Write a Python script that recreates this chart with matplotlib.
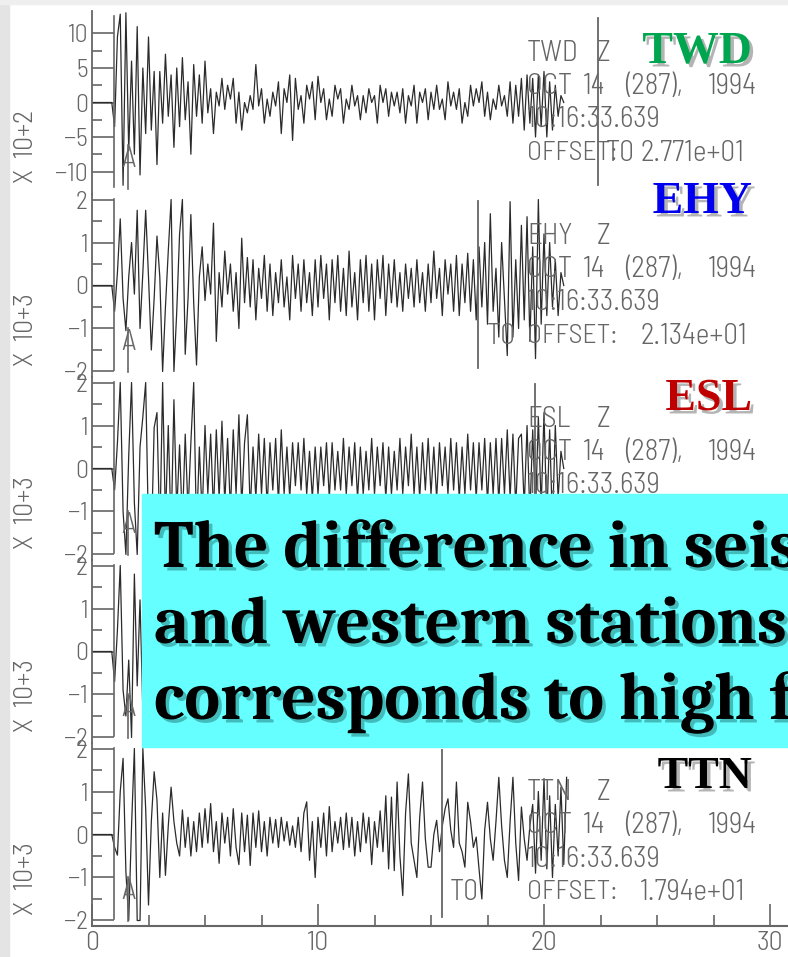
import numpy as np
import matplotlib
matplotlib.use("Agg")
import matplotlib.pyplot as plt
from matplotlib.patches import Rectangle
from matplotlib.transforms import blended_transform_factory
import matplotlib.patheffects as pe

# ---------------- data ----------------
dt = 0.125          # sample interval (s); samples start at t = 0
stations = ["TWD", "EHY", "ESL", "", "TTN"]
station_colors = ["#00A550", "#0000EE", "#C00000", "black", "black"]
scale_labels = ["X  10+2", "X  10+3", "X  10+3", "X  10+3", "X  10+3"]
offsets = ["2.771e+01", "2.134e+01", None, None, "1.794e+01"]
t0_picks = [22.4, 17.1, 19.6, 18.5, 15.5]
a_pick = 1.6
component = "Z"
date_tokens = ["OCT", "14", "(287),", "1994"]
time_line = "10:16:33.639"

yticks_big = [-10, -5, 0, 5, 10]
yticks_small = [-2, -1, 0, 1, 2]
xticks = [0, 10, 20, 30]
xtick_labels = ["0", "10", "20", "30"]

twd = [0, 0, 0, 0, 0, 0, 0, 0,
       -3.5, 9.5, 12.8, -12, 13, -7, 6, -7.5,
       11, -10.5, 5, -4.5, 9.5, -4, 4.5, -9,
       4.5, -3, 7, -2, 4, -6.5, 5, -3.5,
       6.5, -2.5, 3, -7.5, 5.5, -2, 4, -3,
       6, -1.5, 2, -4.5, 1.5, -0.5, 3.5, -1,
       2.5, 0.5, 3.5, -3, 1.5, -4, 0, -1.5,
       1, -1, 5.5, -0.5, 2, -3, 0.5, -2,
       1.5, -0.5, 3, -4.5, 2, 0, 4, -5.5,
       3.5, -1, 1, -3, 2.5, 0.5, 3, -2.5,
       3.8, 0, 2, -2.5, 0.5, -2, 2.5, 0.5,
       2, -3, 0.5, -1, 2.5, -0.5, 1, -2.5,
       1, -1.5, 2, 0, 1, -3, 2.5, 0,
       2, -2, 1.5, -0.5, 1.5, -1.5, 2, -3,
       1, -0.5, 2.5, -3, 1.5, 0, 2, -2.5,
       1.5, -1, 2.5, -1, 0.5, -2.5, 3, -0.5,
       1.5, -1, 2, -3, 0, -2, 2.5, -0.5,
       2, 0, 3, -2, 1.5, -2.5, 0.5, -1,
       2.5, -0.5, 1, -2, 3, -3, 2.5, -2,
       3.5, -4, 4, -3, 3.5, -5, 4, -3.5,
       4.5, -5, 3, -4, 2.5, -2, 1, 0]

ehy = [0, 0, 0, 0, 0, 0, 0, 0,
       -0.6, 0.3, 1.55, -0.3, -1.05, 0.2, 1.0, -0.2,
       1.75, -1.0, 0.3, 1.75, 0.2, -1.5, -0.3, 1.15,
       0.2, -2.0, -0.5, 0.8, 2.0, -2.0, -0.6, 1.2,
       2.0, -1.6, -0.3, 1.65, -0.4, -1.85, 0.2, 0.9,
       -0.35, 0.5, -0.2, 1.45, -1.3, 0.3, -0.5, 0.8,
       -0.2, 0.5, -0.6, 0.3, -1.0, 1.1, -0.4, 0.65,
       -0.5, 0.6, -0.8, 0.4, -0.3, 0.7, -0.6, 0.5,
       -0.7, 0.3, -0.4, 0.6, -0.5, 0.2, -0.8, 0.7,
       -0.3, 0.5, -0.6, 0.6, -0.4, 0.3, -0.7, 0.6,
       -0.5, 0.7, -0.3, 0.5, -0.8, 0.6, -0.4, 0.7,
       -0.6, 0.4, -0.7, 0.8, -0.5, 0.3, -0.8, 0.6,
       -0.4, 0.7, -0.6, 0.5, -0.8, 0.6, -0.3, 0.7,
       -0.7, 0.5, -0.4, 0.6, -0.5, 0.3, -0.6, 0.5,
       -0.3, 0.4, -0.5, 0.6, -0.4, 0.3, -0.6, 0.5,
       -0.4, 0.8, -0.3, 0.4, -0.7, 0.6, -0.2, 0.5,
       -0.6, 0.7, -0.7, 0.5, -0.4, 0.75, -0.6, 0.6,
       -0.8, 0.9, -0.5, 1.0, -0.9, 1.67, -0.6, 0.4,
       -1.2, 1.0, -0.3, -1.63, 1.95, -1.2, 0.6, -1.0,
       1.4, -0.8, 1.6, -1.3, 0.9, -1.7, 2.0, -0.9,
       1.2, -0.7, 1.0, -0.5, 0.6, -0.7, 0.3, 0.0]

esl = [0, 0, 0, 0, 0, 0, 0, 0,
       -0.5, 0.6, 2.0, -1.0, -2.0, 0.3, 2.0, -0.8,
       -2.0, 0.5, 1.2, 2.0, -1.5, -1.8, 0.95, 1.3,
       -1.6, 2.0, -1.2, 1.0, -1.5, 1.6, -1.0, 0.55,
       -1.3, 0.8, -1.0, 0.6, 2.0, -1.5, 0.5, -1.1,
       1.0, -0.6, 0.8, -1.0, 0.9, -0.7, 1.1, -0.8,
       0.7, -1.0, 0.9, -0.6, 1.25, -0.9, 0.6, 1.25,
       -1.0, 0.5, -0.7, 0.8, -0.6, 0.7, -0.9, 0.6,
       -0.5, 0.7, -0.8, 0.9, -0.6, 0.5, -0.7, 0.6,
       -0.4, 0.6, -0.5, 0.7, -0.6, 0.4, -0.7, 0.5,
       -0.6, 0.5, -0.4, 0.6, -0.7, 0.6, -0.5, 0.4,
       -0.5, 0.7, -0.6, 0.5, -0.4, 0.6, -0.7, 0.5,
       -0.6, 0.4, -0.5, 0.7, -0.6, 0.5, -0.4, 0.6,
       -0.7, 0.5, -0.6, 0.4, -0.5, 0.7, -0.6, 0.5,
       -0.4, 0.8, -0.6, 0.5, -0.7, 0.6, -0.5, 0.7,
       -0.6, 0.5, -0.7, 0.6, -0.4, 0.5, -0.6, 0.7,
       -0.5, 0.6, -0.7, 0.5, -0.6, 0.8, -0.5, 0.6,
       -0.7, 0.6, -0.5, 0.7, -0.8, 0.6, -0.6, 0.7,
       -0.8, 0.7, -0.6, 0.9, -0.7, 0.8, -0.9, 0.7,
       0.8, -0.9, 1.0, -1.1, 0.9, -1.0, 1.2, -0.9,
       1.3, -1.2, 0.9, -1.3, 1.0, -0.7, 0.4, 0.0]

st4 = [0, 0, 0, 0, 0, 0, 0, 0,
       -0.7, 0.5, 2.0, -0.9, -1.5, -0.2, -2.0, 1.8,
       -0.8, 1.2, -1.4, 1.5, -1.0, 0.9, -1.2, 0.8,
       -0.7, 0.6, -0.8, 0.7, -0.6, 0.5, -0.7, 0.6,
       -0.5, 0.6, -0.6, 0.5, -0.4, 0.6, -0.5, 0.4,
       -0.5, 0.4, -0.6, 0.5, -0.4, 0.5, -0.5, 0.4,
       -0.4, 0.5, -0.5, 0.4, -0.6, 0.5, -0.4, 0.5,
       -0.5, 0.4, -0.4, 0.5, -0.5, 0.4, -0.6, 0.5,
       -0.4, 0.5, -0.5, 0.4, -0.4, 0.5, -0.5, 0.4,
       -0.5, 0.4, -0.4, 0.5, -0.6, 0.5, -0.4, 0.5,
       -0.4, 0.5, -0.5, 0.4, -0.4, 0.6, -0.5, 0.4,
       -0.5, 0.4, -0.6, 0.5, -0.4, 0.5, -0.5, 0.6,
       -0.6, 0.5, -0.4, 0.6, -0.5, 0.4, -0.6, 0.5,
       -0.5, 0.6, -0.6, 0.5, -0.7, 0.6, -0.5, 0.6,
       -0.7, 0.6, -0.8, 0.7, -0.6, 0.8, -0.7, 0.6,
       -0.8, 0.7, -0.9, 0.8, -0.7, 0.9, -0.8, 0.7,
       -0.9, 0.8, -1.0, 0.9, -0.8, 1.0, -0.9, 0.8,
       -1.0, 0.9, -1.1, 1.0, -0.9, 1.1, -1.0, 0.9,
       -1.1, 1.0, -1.2, 1.1, -1.0, 1.2, -1.1, 1.0,
       -1.0, 0.9, -1.1, 1.0, -0.9, 1.0, -0.8, 0.7,
       -0.8, 0.7, -0.6, 0.5, -0.4, 0.3, -0.2, 0.0]

ttn = [0, 0, 0, 0, 0, 0, 0, 0,
       -0.3, -0.48, 1.0, 1.77, -0.87, -2.0, 0.2, 2.0,
       -2.0, -2.0, 2.0, 0.6, -1.64, 0.3, 1.46, 0.8,
       -1.0, 0.5, -0.95, 0.2, 1.1, 0.3, -0.2, -0.5,
       0.57, -0.3, 0.4, -0.5, 0.3, -0.4, 0.5, -0.3,
       0.6, -0.2, 0.72, -0.4, 0.3, -0.67, 0.5, -0.2,
       0.4, -0.5, 0.6, -0.3, -0.7, 0.5, -0.4, 0.45,
       -0.72, 0.5, -0.3, 0.55, -0.4, 0.3, -0.5, 0.4,
       -0.2, 0.35, -0.3, 0.4, -0.15, 0.3, -0.25, 0.2,
       -0.3, 0.4, -0.4, 0.5, 0.76, -0.6, 0.3, -1.0,
       0.4, -0.3, 0.5, -0.5, 0.65, -0.4, 0.3, -0.2,
       0.4, -0.35, 0.5, -0.3, 0.4, -0.5, 0.3, -0.4,
       0.5, -0.2, 0.4, -0.7, 0.3, -0.3, 0.55, -0.4,
       0.9, -0.8, 0.87, -0.84, 1.22, -0.5, -1.42, 0.5,
       1.41, -0.2, -0.6, -1.0, 0.4, 1.22, -0.1, -0.76,
       -0.76, 0.0, 0.33, -0.4, 0.2, 0.6, 0.83, 0.1,
       -0.3, 1.22, -0.2, -0.4, -0.76, 0.75, 0.3, -0.3,
       -0.06, -0.8, -1.5, 0.1, 0.75, -0.1, -0.6, 0.3,
       1.33, 0.2, -0.6, -1.0, 0.3, 1.33, -0.2, -1.07,
       0.64, -0.1, -0.6, 0.2, 0.7, -0.9, 1.0, -0.6,
       1.3, -0.8, 0.9, -1.0, 0.7, -0.5, 1.1, -0.7,
       1.33]

traces = [twd, ehy, esl, st4, ttn]

overlay_lines = ["The difference in seis",
                 "and western stations is",
                 "corresponds to high fr"]

# ---------------- layout ----------------
W, H = 788, 957
fig = plt.figure(figsize=(W / 100, H / 100), dpi=100)
fig.patch.set_facecolor("white")

def fx(px):
    return px / W

def fy(py):
    return 1 - py / H

LABEL_FONT = ["Barlow Semi Condensed", "Roboto Condensed", "Barlow Condensed", "DejaVu Sans"]
LABEL_W = 300
SERIF = ["Liberation Serif", "DejaVu Serif"]
CAPTION = ["Caladea", "Liberation Serif", "DejaVu Serif"]
GRAY = "#666666"
TRACE = "#2b2b2b"

# slide background strips
fig.add_artist(Rectangle((0, 0), fx(9), 1, transform=fig.transFigure,
                         color="#e4e4e4", zorder=-5))
fig.add_artist(Rectangle((0, fy(4)), 1, 4 / H, transform=fig.transFigure,
                         color="#efefef", zorder=-5))

x0_px, px_per_s = 92, 22.6
panel_top, panel_h = 11, 183
xmax = (W - x0_px) / px_per_s

def px2t(px):
    return (px - x0_px) / px_per_s

# header token x positions (pixels in the slide)
x_block = 527
x_comp = 597
x_date = [527, 583, 625, 708]
x_offset_val = 640

def txt(ax, x, y, s, tr, **kw):
    ax.text(x, y, s, transform=tr, fontsize=kw.pop("fontsize", 21),
            color=GRAY, family=LABEL_FONT, fontweight=LABEL_W, **kw)

for k in range(5):
    top = panel_top + k * panel_h
    ax = fig.add_axes([fx(x0_px), fy(top + panel_h), (W - x0_px) / W, panel_h / H])
    ax.set_facecolor("none")
    vals = np.array(traces[k], dtype=float)
    t = dt * np.arange(len(vals))
    ax.plot(t, vals, color=TRACE, lw=0.9)

    if k == 0:
        ylim, ticks, minor = 13.26, yticks_big, 2.5
    else:
        ylim, ticks, minor = 2.128, yticks_small, 0.5
    ax.set_ylim(-ylim, ylim)
    ax.set_xlim(0, xmax)
    ax.set_yticks(ticks)
    ax.set_yticklabels([str(v).replace("-", "\u2212") for v in ticks])
    ax.set_yticks([m for m in np.arange(-4, 5) * minor
                   if abs(m) <= ylim and m not in ticks], minor=True)
    ax.tick_params(axis="y", which="major", direction="in", length=16, width=1.2,
                   color=GRAY, labelsize=18.5, labelcolor=GRAY, pad=3)
    ax.tick_params(axis="y", which="minor", direction="in", length=7.5, width=1.2,
                   color=GRAY)
    for lab in ax.get_yticklabels():
        lab.set_family(LABEL_FONT)
        lab.set_fontweight(LABEL_W)

    for s in ["top", "right"]:
        ax.spines[s].set_visible(False)
    ax.spines["left"].set_color(GRAY)
    ax.spines["left"].set_linewidth(1.3)

    if k < 4:
        ax.spines["bottom"].set_visible(False)
        ax.tick_params(axis="x", which="both", bottom=False, labelbottom=False)
    else:
        ax.spines["bottom"].set_color(GRAY)
        ax.spines["bottom"].set_linewidth(1.5)
        ax.set_xticks(xticks)
        ax.set_xticklabels(xtick_labels)
        ax.set_xticks([v for v in np.arange(0, 31, 2.5) if v not in xticks], minor=True)
        ax.tick_params(axis="x", which="major", direction="in", length=16, width=1.2,
                       color=GRAY, labelsize=20, labelcolor=GRAY, pad=3.5)
        ax.tick_params(axis="x", which="minor", direction="in", length=8, width=1.2,
                       color=GRAY)
        for lab in ax.get_xticklabels():
            lab.set_family(LABEL_FONT)
            lab.set_fontweight(LABEL_W)

    tr = blended_transform_factory(ax.transData, ax.transAxes)
    # frame line at end of major ticks
    ax.axvline(0.97, ymin=0.04, ymax=0.97, color=GRAY, lw=1.2)
    # A pick
    ax.axvline(a_pick, ymin=0.03, ymax=0.27, color=GRAY, lw=1.2)
    txt(ax, a_pick, 0.19, "A", tr, ha="center", va="center")
    # T0 pick
    ax.axvline(t0_picks[k], ymin=0.05, ymax=0.96, color=GRAY, lw=1.3)

    # y scale label
    txt(ax, -0.095, 0.26, scale_labels[k], ax.transAxes, rotation=90,
        ha="center", va="center", fontsize=20)

    # header block
    if stations[k]:
        top_frac = 0.77 if k < 4 else 0.73
        txt(ax, px2t(x_block), top_frac, stations[k], tr, ha="left", va="center")
        txt(ax, px2t(x_comp), top_frac, component, tr, ha="left", va="center")
        for tok, xp in zip(date_tokens, x_date):
            txt(ax, px2t(xp), top_frac - 0.182, tok, tr, ha="left", va="center")
        txt(ax, px2t(x_block), top_frac - 0.364, time_line, tr, ha="left", va="center")
        if offsets[k]:
            yy = top_frac - 0.546
            txt(ax, px2t(x_block), yy, "OFFSET:", tr, ha="left", va="center",
                fontsize=20)
            txt(ax, px2t(x_offset_val), yy, offsets[k], tr, ha="left", va="center")
            txt(ax, t0_picks[k] + 0.35, yy, "T0", tr, ha="left", va="center")

# big station labels (slide overlay)
label_baselines = [63, 213, 410, None, 788]
shadow = [pe.SimplePatchShadow(offset=(2.5, -2.5), shadow_rgbFace="#777777", alpha=0.55),
          pe.Normal()]
for k in range(5):
    if stations[k] and label_baselines[k] is not None:
        fig.text(fx(752), fy(label_baselines[k]), stations[k], ha="right",
                 va="baseline", fontsize=33, fontweight="bold", family=SERIF,
                 color=station_colors[k], path_effects=shadow, zorder=6)

# cyan caption box
fig.add_artist(Rectangle((fx(142), fy(747)), 1 - fx(142), (747 - 494) / H,
                         transform=fig.transFigure, color="#66FFFF", zorder=10))
caption_baselines = [567, 643, 719]
shadow2 = [pe.SimplePatchShadow(offset=(2.5, -2.5), shadow_rgbFace="#2a8f8f", alpha=0.6),
           pe.Normal()]
for line, yb in zip(overlay_lines, caption_baselines):
    fig.text(fx(154), fy(yb), line, ha="left", va="baseline", fontsize=48.5,
             fontweight="bold", family=CAPTION,
             color="black", path_effects=shadow2, zorder=11)

fig.savefig("out.png", dpi=100)
